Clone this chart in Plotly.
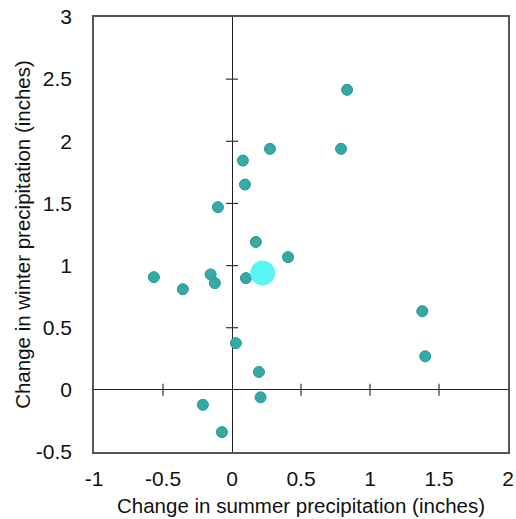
import plotly.graph_objects as go

# Data
summer_change = [0.834, 0.275, 0.790, 0.079, 0.094, -0.102, 0.173, 0.406, 0.101,
                 -0.155, -0.124, -0.566, -0.356, 1.379, 1.400, 0.028, 0.195, 0.207,
                 -0.211, -0.073]
winter_change = [2.414, 1.939, 1.939, 1.845, 1.652, 1.470, 1.190, 1.068, 0.899,
                 0.929, 0.859, 0.907, 0.810, 0.633, 0.270, 0.376, 0.144, -0.060,
                 -0.120, -0.340]
mean_summer = [0.222]
mean_winter = [0.940]

x_ticks = [-1, -0.5, 0, 0.5, 1, 1.5, 2]
y_ticks = [-0.5, 0, 0.5, 1, 1.5, 2, 2.5, 3]
x_range = [-1, 2]
y_range = [-0.5, 3]

FONT = "Liberation Sans, Arial, sans-serif"

fig = go.Figure()
fig.add_trace(go.Scatter(
    x=summer_change, y=winter_change, mode="markers",
    marker=dict(size=11, color="rgb(52,170,166)",
                line=dict(width=1, color="rgb(40,150,146)")),
    showlegend=False, hoverinfo="x+y"))
fig.add_trace(go.Scatter(
    x=mean_summer, y=mean_winter, mode="markers",
    marker=dict(size=25, color="rgb(88,245,242)", line=dict(width=0)),
    showlegend=False, hoverinfo="x+y"))

# Crossing tick marks on the zero lines
shapes = []
for t in x_ticks:
    if t in (0, x_range[0], x_range[1]):
        continue
    shapes.append(dict(type="line", xref="x", yref="y", x0=t, x1=t,
                       ysizemode="pixel", yanchor=0, y0=-6, y1=6,
                       line=dict(color="#333333", width=1.2)))
for t in y_ticks:
    if t in (0, y_range[0], y_range[1]):
        continue
    shapes.append(dict(type="line", xref="x", yref="y", y0=t, y1=t,
                       xsizemode="pixel", xanchor=0, x0=-6, x1=6,
                       line=dict(color="#333333", width=1.2)))

fig.update_layout(
    width=516, height=519,
    margin=dict(l=94, r=8, t=17, b=67),
    paper_bgcolor="white", plot_bgcolor="white",
    font=dict(family=FONT, color="#111111"),
    shapes=shapes,
    xaxis=dict(range=x_range, tickvals=x_ticks, ticktext=[f"{v:g}" for v in x_ticks],
               showgrid=False, zeroline=True, zerolinecolor="#222222", zerolinewidth=1.2,
               showline=True, linecolor="#555555", linewidth=1.5, mirror=True,
               ticks="", tickfont=dict(size=21, family=FONT), ticklabelstandoff=7,
               automargin=False,
               title=dict(text="Change in summer precipitation (inches)",
                          font=dict(size=20.5, family=FONT), standoff=10)),
    yaxis=dict(range=y_range, tickvals=y_ticks, ticktext=[f"{v:g}" for v in y_ticks],
               showgrid=False, zeroline=True, zerolinecolor="#222222", zerolinewidth=1.2,
               showline=True, linecolor="#555555", linewidth=1.5, mirror=True,
               ticks="", tickfont=dict(size=21, family=FONT), ticklabelstandoff=16,
               automargin=False,
               title=dict(text="Change in winter precipitation (inches)",
                          font=dict(size=20.5, family=FONT), standoff=0)),
)

fig.write_html("out.html", config={"displayModeBar": False},
               post_script="document.body.style.margin='0';document.body.style.overflow='hidden';")
